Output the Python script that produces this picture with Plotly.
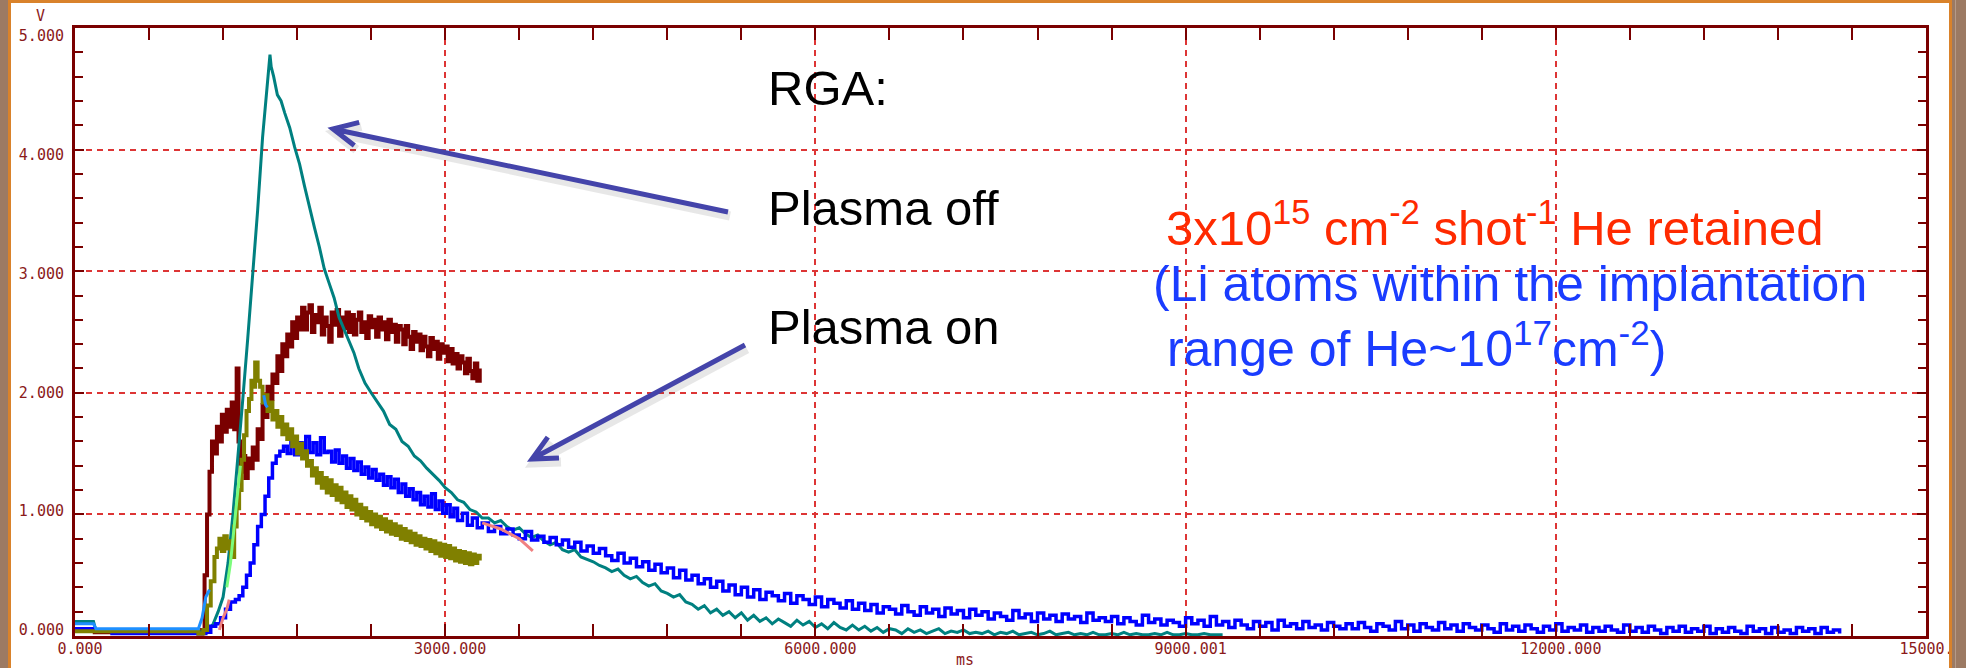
import math
import plotly.graph_objects as go

# ---------------- data (ms, V) ----------------
# explicit (time, value) pairs for the rising parts
teal_head = [
    (0, 0.12), (150, 0.12), (170, 0.04), (400, 0.03), (700, 0.02), (1000, 0.03),
    (1080, 0.05), (1120, 0.10), (1160, 0.20), (1200, 0.32), (1240, 0.60), (1280, 1.00),
    (1320, 1.45), (1360, 1.95), (1400, 2.45), (1440, 2.95), (1480, 3.50), (1520, 4.10),
    (1550, 4.45), (1570, 4.65), (1580, 4.78), (1590, 4.68), (1610, 4.60), (1640, 4.45),
    (1670, 4.40), (1700, 4.30), (1740, 4.18), (1780, 4.02), (1820, 3.88), (1860, 3.70),
    (1900, 3.52), (1940, 3.36), (1980, 3.20), (2020, 3.02), (2060, 2.90), (2100, 2.78),
    (2140, 2.62), (2180, 2.52), (2220, 2.42), (2260, 2.33), (2300, 2.20), (2350, 2.08),
    (2400, 2.00), (2450, 1.92), (2500, 1.85), (2550, 1.74), (2600, 1.70), (2650, 1.60),
    (2700, 1.56), (2750, 1.48), (2800, 1.44), (2850, 1.38), (2900, 1.33), (2950, 1.28),
    (3000, 1.22), (3050, 1.18), (3100, 1.12), (3150, 1.10), (3200, 1.04), (3250, 1.02),
    (3300, 0.97),
]
# teal tail sampled every 50 ms from 3350 ms
teal_tail = [
    0.97, 0.93, 0.95, 0.90, 0.87, 0.89, 0.84, 0.81, 0.83, 0.78, 0.75, 0.77, 0.71, 0.69, 0.71, 0.65, 0.63, 0.61, 0.58, 0.56,
    0.53, 0.55, 0.50, 0.47, 0.49, 0.44, 0.41, 0.43, 0.37, 0.35, 0.32, 0.34, 0.28, 0.26, 0.22, 0.25, 0.19, 0.22, 0.17, 0.20,
    0.15, 0.19, 0.13, 0.17, 0.12, 0.15, 0.10, 0.14, 0.11, 0.08, 0.13, 0.09, 0.12, 0.07, 0.10, 0.06, 0.11, 0.07, 0.05, 0.09,
    0.05, 0.08, 0.04, 0.07, 0.03, 0.06, 0.05, 0.02, 0.06, 0.03, 0.05, 0.02, 0.04, 0.06, 0.02, 0.04, 0.03, 0.05, 0.02, 0.03,
    0.02, 0.04, 0.01, 0.03, 0.02, 0.04, 0.01, 0.02, 0.03, 0.01, 0.02, 0.04, 0.01, 0.02, 0.03, 0.01, 0.02, 0.01, 0.03, 0.01,
    0.01, 0.02, 0.01, 0.03, 0.01, 0.02, 0.01, 0.01, 0.02, 0.01, 0.03, 0.01, 0.01, 0.02, 0.01, 0.01, 0.02, 0.01, 0.01, 0.01,
]

maroon_head = [
    (0, 0.05), (160, 0.03), (1000, 0.02), (1030, 0.05), (1050, 0.50), (1070, 1.00),
    (1090, 1.35), (1110, 1.60), (1130, 1.50), (1150, 1.72), (1170, 1.60), (1190, 1.82),
    (1210, 1.68), (1230, 1.86), (1250, 1.72), (1270, 1.92), (1290, 1.70), (1310, 2.20),
    (1325, 1.60), (1340, 1.35), (1360, 1.48), (1380, 1.30), (1400, 1.46), (1420, 1.38),
]
# maroon sampled every 20 ms from 1440 ms
maroon_tail = [
    1.55, 1.45, 1.70, 1.62, 1.90, 1.80, 2.05, 1.95, 2.15, 2.08, 2.30, 2.18, 2.40, 2.30, 2.48, 2.38, 2.58, 2.45, 2.62, 2.52,
    2.70, 2.52, 2.66, 2.72, 2.50, 2.64, 2.58, 2.70, 2.48, 2.62, 2.55, 2.42, 2.66, 2.56, 2.68, 2.47, 2.62, 2.53, 2.66, 2.50,
    2.64, 2.48, 2.60, 2.66, 2.50, 2.58, 2.45, 2.63, 2.54, 2.60, 2.46, 2.62, 2.52, 2.58, 2.44, 2.60, 2.50, 2.56, 2.42, 2.55,
    2.52, 2.40, 2.55, 2.46, 2.36, 2.50, 2.42, 2.48, 2.35, 2.46, 2.38, 2.30, 2.45, 2.36, 2.42, 2.28, 2.40, 2.33, 2.38, 2.26,
    2.36, 2.24, 2.32, 2.20, 2.30, 2.25, 2.16, 2.28, 2.18, 2.12, 2.24, 2.10, 2.20,
]

olive_head = [
    (0, 0.04), (1000, 0.02), (1040, 0.05), (1070, 0.25), (1100, 0.45), (1130, 0.65),
    (1150, 0.72), (1170, 0.80), (1190, 0.70), (1210, 0.82), (1230, 0.72), (1250, 0.78),
    (1265, 0.65), (1290, 0.90), (1310, 1.05), (1330, 1.20), (1350, 1.45), (1370, 1.65),
    (1390, 1.85), (1410, 1.95), (1430, 2.10), (1450, 2.05), (1460, 2.25), (1480, 2.10),
]
# olive sampled every 20 ms from 1500 ms
olive_tail = [
    2.05, 1.92, 1.98, 1.85, 1.92, 1.78, 1.85, 1.72, 1.80, 1.66, 1.74, 1.62, 1.70, 1.56, 1.64, 1.50, 1.58, 1.46, 1.52, 1.40,
    1.44, 1.32, 1.38, 1.26, 1.34, 1.22, 1.30, 1.18, 1.28, 1.16, 1.24, 1.12, 1.22, 1.10, 1.18, 1.06, 1.15, 1.04, 1.12, 1.00,
    1.08, 0.97, 1.05, 0.95, 1.02, 0.92, 1.00, 0.90, 0.98, 0.88, 0.96, 0.86, 0.94, 0.84, 0.92, 0.83, 0.90, 0.80, 0.88, 0.79,
    0.86, 0.77, 0.84, 0.75, 0.82, 0.74, 0.80, 0.72, 0.79, 0.70, 0.78, 0.68, 0.76, 0.66, 0.75, 0.65, 0.74, 0.64, 0.72, 0.62,
    0.70, 0.61, 0.69, 0.60, 0.68, 0.59, 0.67, 0.60, 0.66, 0.62,
]

blue_head = [
    (0, 0.06), (150, 0.05), (300, 0.02), (1000, 0.02), (1060, 0.03), (1100, 0.08),
    (1140, 0.10), (1180, 0.15), (1220, 0.22), (1260, 0.28), (1300, 0.30), (1330, 0.33),
    (1360, 0.40), (1390, 0.50), (1420, 0.60), (1450, 0.75), (1480, 0.90), (1510, 1.00),
    (1540, 1.15), (1570, 1.30), (1600, 1.42), (1630, 1.48), (1660, 1.52), (1690, 1.56),
    (1720, 1.50), (1750, 1.60), (1780, 1.49), (1810, 1.59), (1840, 1.54), (1870, 1.64),
    (1900, 1.51), (1930, 1.59), (1960, 1.49), (1990, 1.63), (2020, 1.51), (2050, 1.52),
    (2080, 1.43), (2110, 1.53), (2140, 1.42), (2170, 1.48), (2200, 1.38), (2230, 1.46),
    (2260, 1.36), (2290, 1.43), (2320, 1.33), (2350, 1.39), (2380, 1.30), (2410, 1.37),
    (2440, 1.28), (2470, 1.33), (2500, 1.24), (2530, 1.31), (2560, 1.22), (2590, 1.29),
    (2620, 1.18), (2650, 1.25), (2680, 1.15), (2710, 1.21), (2740, 1.12), (2770, 1.18),
    (2800, 1.08), (2830, 1.15), (2860, 1.06), (2890, 1.17), (2920, 1.04), (2950, 1.11),
    (2980, 1.01), (3010, 1.08), (3040, 0.98), (3070, 1.05), (3100, 0.95), (3140, 1.01),
    (3180, 0.91), (3220, 0.97), (3260, 0.89), (3300, 0.93),
]
# blue tail sampled every 50 ms from 3350 ms
blue_tail = [
    0.86, 0.90, 0.84, 0.88, 0.83, 0.80, 0.86, 0.79, 0.82, 0.77, 0.81, 0.75, 0.79, 0.73, 0.77, 0.70, 0.74, 0.68, 0.72, 0.66,
    0.62, 0.68, 0.60, 0.64, 0.57, 0.61, 0.54, 0.59, 0.52, 0.56, 0.48, 0.54, 0.46, 0.50, 0.43, 0.47, 0.40, 0.45, 0.37, 0.42,
    0.34, 0.40, 0.32, 0.38, 0.30, 0.36, 0.33, 0.29, 0.35, 0.27, 0.33, 0.30, 0.26, 0.32, 0.24, 0.30, 0.27, 0.23, 0.29, 0.22,
    0.27, 0.21, 0.26, 0.19, 0.24, 0.22, 0.18, 0.25, 0.20, 0.17, 0.24, 0.19, 0.22, 0.16, 0.23, 0.18, 0.21, 0.15, 0.22, 0.17,
    0.20, 0.14, 0.19, 0.16, 0.13, 0.21, 0.15, 0.18, 0.12, 0.19, 0.14, 0.17, 0.12, 0.18, 0.14, 0.16, 0.11, 0.19, 0.13, 0.15,
    0.12, 0.16, 0.10, 0.15, 0.12, 0.09, 0.17, 0.11, 0.14, 0.09, 0.13, 0.11, 0.08, 0.15, 0.10, 0.13, 0.08, 0.16, 0.09, 0.12,
    0.07, 0.13, 0.09, 0.06, 0.12, 0.08, 0.11, 0.05, 0.13, 0.08, 0.10, 0.06, 0.12, 0.07, 0.09, 0.05, 0.11, 0.08, 0.06, 0.10,
    0.06, 0.11, 0.07, 0.04, 0.10, 0.08, 0.05, 0.12, 0.06, 0.09, 0.04, 0.10, 0.07, 0.05, 0.11, 0.06, 0.09, 0.04, 0.10, 0.07,
    0.05, 0.09, 0.06, 0.03, 0.10, 0.05, 0.08, 0.04, 0.09, 0.06, 0.03, 0.08, 0.05, 0.10, 0.04, 0.07, 0.05, 0.09, 0.03, 0.07,
    0.04, 0.08, 0.05, 0.03, 0.09, 0.04, 0.07, 0.03, 0.08, 0.05, 0.02, 0.07, 0.04, 0.08, 0.03, 0.06, 0.04, 0.08, 0.02, 0.06,
    0.03, 0.07, 0.04, 0.02, 0.08, 0.04, 0.06, 0.02, 0.07, 0.03, 0.05, 0.02, 0.07, 0.04, 0.06, 0.02, 0.07, 0.03, 0.05, 0.02,
]

dodger_pts = [
    (0, 0.10), (150, 0.10), (170, 0.06), (1000, 0.06), (1030, 0.15), (1060, 0.32),
    (1090, 0.38), (None, None), (1530, 1.98), (1545, 1.90), (1560, 1.88),
]
green_pts = [(1230, 0.40), (1260, 0.60), (1290, 0.90), (1320, 1.20), (1340, 1.40)]
salmon_pts = [
    (1170, 0.05), (1200, 0.15), (1230, 0.22), (1250, 0.30), (None, None),
    (3300, 0.93), (3450, 0.88), (3600, 0.80), (3710, 0.70),
]

x_tick_vals = [0, 3000, 6000, 9000, 12000, 15000]
# the last label is cut by the window edge in the reference ("15000.")
x_tick_text = ["0.000", "3000.000", "6000.000", "9000.001", "12000.000", "15000.\u00a0"]
y_tick_vals = [0, 1, 2, 3, 4, 5]
y_tick_text = ["0.000", "1.000", "2.000", "3.000", "4.000", "5.000"]


def join(head, tail=None, t0=None, dt=None):
    xs = [p[0] for p in head]
    ys = [p[1] for p in head]
    if tail:
        xs += [t0 + i * dt for i in range(len(tail))]   # sampling clock of the recorder
        ys += list(tail)
    return xs, ys


# ---------------- figure ----------------
W, H = 1966, 668
L, R, T, B = 75, 1926, 28, 636  # plot-area pixel box


def px(x):
    return (x - L) / (R - L)


def py(y):
    return (B - y) / (B - T)


fig = go.Figure()

series = [
    ("maroon", join(maroon_head, maroon_tail, 1440, 20), "#7A0000", 4, "hv"),
    ("teal", join(teal_head, teal_tail, 3350, 50), "#008080", 3, "linear"),
    ("blue", join(blue_head, blue_tail, 3350, 50), "#0000FF", 3.5, "hv"),
    ("olive", join(olive_head, olive_tail, 1500, 20), "#808000", 4, "hv"),
    ("dodger", join(dodger_pts), "#1E90FF", 3, "linear"),
    ("green", join(green_pts), "#7CFC7C", 3, "linear"),
    ("salmon", join(salmon_pts), "#F08080", 3, "linear"),
]
for name, (xs, ys), col, w, shp in series:
    fig.add_trace(go.Scatter(x=xs, y=ys, mode="lines", name=name,
                             line=dict(color=col, width=w, shape=shp),
                             connectgaps=False, showlegend=False, hoverinfo="skip"))

# carrier trace for the label axis (the recorder prints its V labels on a slightly
# compressed scale next to the grid)
fig.add_trace(go.Scatter(x=[0], y=[0], yaxis="y2", mode="markers",
                         marker=dict(opacity=0), showlegend=False, hoverinfo="skip"))

AX = "#7A0000"
LBL = "#8B1A1A"
GRID = "#DD3535"
tickfont = dict(family="DejaVu Sans Mono, monospace", size=15, color=LBL)

fig.update_xaxes(
    range=[0, 15000], showline=True, linecolor=AX, linewidth=3, mirror="allticks",
    ticks="inside", ticklen=12, tickwidth=2, tickcolor=AX,
    tickvals=x_tick_vals, ticktext=x_tick_text, tickfont=tickfont,
    ticklabelshift=5, ticklabelstandoff=-3, ticklabeloverflow="allow", automargin=False,
    minor=dict(dtick=600, ticks="inside", ticklen=7, tickwidth=2, tickcolor=AX, showgrid=False),
    showgrid=True, gridcolor=GRID, gridwidth=1.5, griddash="6px,5px", zeroline=False,
)
fig.update_layout(
    yaxis=dict(
        range=[0, 5], showline=True, linecolor=AX, linewidth=3, mirror="allticks",
        ticks="inside", ticklen=9, tickwidth=2, tickcolor=AX,
        tickvals=y_tick_vals, showticklabels=False, automargin=False,
        minor=dict(dtick=0.2, ticks="inside", ticklen=8, tickwidth=2, tickcolor=AX, showgrid=False),
        showgrid=True, gridcolor=GRID, gridwidth=1.5, griddash="6px,5px", zeroline=False,
    ),
    yaxis2=dict(
        overlaying="y", side="left", range=[-0.0505, 5.0673],
        tickvals=y_tick_vals, ticktext=y_tick_text, tickfont=tickfont,
        showgrid=False, showline=False, ticks="", zeroline=False,
        ticklabelstandoff=10, ticklabeloverflow="allow", automargin=False,
    ),
)

big = "Liberation Sans, Arial, sans-serif"
ann = [
    dict(text="RGA:", x=px(766), y=py(88), font=dict(family=big, size=49, color="black")),
    dict(text="Plasma off", x=px(766), y=py(208), font=dict(family=big, size=49, color="black")),
    dict(text="Plasma on", x=px(766), y=py(327), font=dict(family=big, size=49, color="black")),
    dict(text="3x10<sup>15</sup> cm<sup>-2</sup> shot<sup>-1</sup> He retained",
         x=px(1164), y=py(224), font=dict(family=big, size=49, color="#FF2A00")),
    dict(text="(Li atoms within the implantation<br>\u00a0range of He~10<sup>17</sup>cm<sup>-2</sup>)",
         x=px(1151), y=py(316), font=dict(family=big, size=50, color="#1A3CFF")),
    dict(text="V", x=px(40), y=py(16), xanchor="center",
         font=dict(family="DejaVu Sans Mono, monospace", size=15, color=LBL)),
    dict(text="ms", x=px(965), y=py(660), xanchor="center",
         font=dict(family="DejaVu Sans Mono, monospace", size=15, color=LBL)),
]
for a in ann:
    a.setdefault("xanchor", "left")
    fig.add_annotation(xref="paper", yref="paper", yanchor="middle", showarrow=False,
                       align="left", **a)

shapes = []


def rect(x0, y0, x1, y1, color):
    shapes.append(dict(type="rect", xref="paper", yref="paper",
                       x0=px(x0), x1=px(x1), y0=py(y0), y1=py(y1),
                       fillcolor=color, line=dict(width=0), layer="above"))


def arrow(tail, tip, dx=0, dy=0, color="#4444AA", width=5):
    tx, ty = tail
    hx, hy = tip
    ang = math.atan2(ty - hy, tx - hx)
    wl = 27
    a1 = ang + math.radians(26)
    a2 = ang - math.radians(26)
    w1 = (hx + wl * math.cos(a1), hy + wl * math.sin(a1))
    w2 = (hx + wl * math.cos(a2), hy + wl * math.sin(a2))

    def P(p):
        return f"{px(p[0] + dx):.5f},{py(p[1] + dy):.5f}"

    path = f"M {P(tail)} L {P(tip)} M {P(w1)} L {P(tip)} L {P(w2)}"
    shapes.append(dict(type="path", xref="paper", yref="paper", path=path,
                       line=dict(color=color, width=width), layer="above"))


# arrows (soft shadow first)
arrow((728, 212), (333, 129), dx=2, dy=4, color="rgba(60,60,60,0.12)", width=9)
arrow((745, 345), (532, 459), dx=2, dy=4, color="rgba(60,60,60,0.12)", width=9)
arrow((728, 212), (333, 129))
arrow((745, 345), (532, 459))

# window frame
rect(0, 0, 8, 668, "#9C7A63")
rect(8, 0, 11, 668, "#D9822B")
rect(11, 0, 1950, 3, "#D9822B")
rect(1949, 0, 1952, 668, "#D9822B")
rect(1952, 0, 1966, 668, "#9C7A63")
rect(1955, 0, 1956, 668, "#B59A88")

fig.update_layout(
    width=W, height=H, autosize=False,
    margin=dict(l=L, r=W - R, t=T, b=H - B, pad=0, autoexpand=False),
    paper_bgcolor="white", plot_bgcolor="white",
    showlegend=False, shapes=shapes,
)

fig.write_html("out.html")
